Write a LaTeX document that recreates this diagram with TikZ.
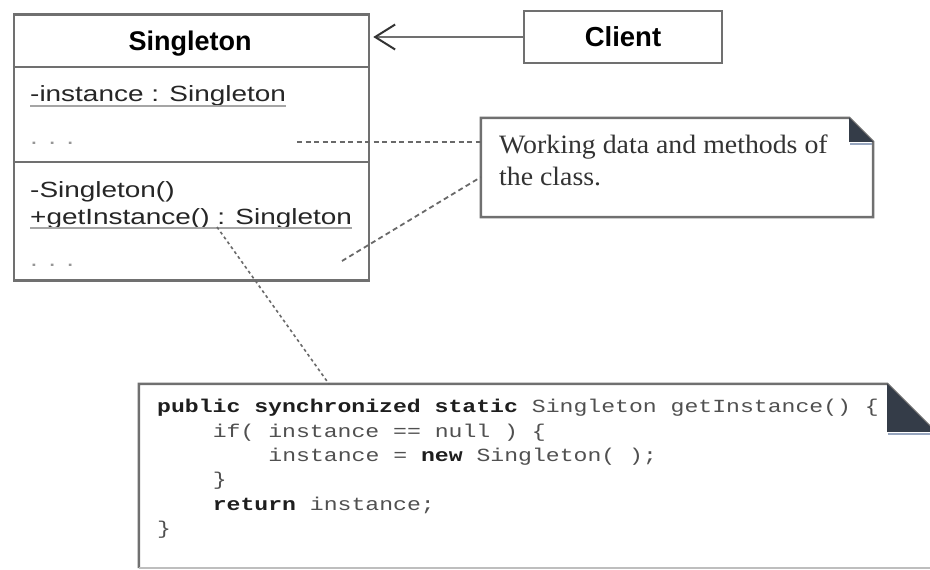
\documentclass[tikz,border=0pt]{standalone}
\usepackage{fontspec}
\setmainfont{Liberation Sans}
\newfontfamily\hdfont{Liberation Sans}
\newfontfamily\memfont[FakeStretch=1.27]{Liberation Sans}
\newfontfamily\notefont[FakeStretch=1.05]{Liberation Serif}
\newfontfamily\codefont[FakeStretch=1.25]{Liberation Mono}
\usetikzlibrary{arrows.meta}
\definecolor{linec}{RGB}{112,112,112}
\definecolor{foldc}{RGB}{52,60,72}
\definecolor{foldsh}{RGB}{150,165,190}
\definecolor{codec}{RGB}{80,80,80}
\definecolor{codeb}{RGB}{30,30,30}
\definecolor{dashc}{RGB}{105,105,105}
\definecolor{ulc}{RGB}{165,165,165}
\definecolor{dotc}{RGB}{150,150,150}
\definecolor{lightline}{RGB}{190,190,190}
\begin{document}
\begin{tikzpicture}[x=1pt,y=-1pt,
  box/.style={draw=linec,line width=2.5pt,fill=white,inner sep=0pt},
  hdtext/.style={font=\hdfont\bfseries\fontsize{27}{32}\selectfont,inner sep=0pt,anchor=base,text=black},
  memtext/.style={font=\memfont\fontsize{22}{26}\selectfont,inner sep=0pt,anchor=base west,text=black!85},
  dotstext/.style={font=\memfont\fontsize{22}{26}\selectfont,inner sep=0pt,anchor=base west,text=dotc},
  notetext/.style={font=\notefont\fontsize{26.5}{33}\selectfont,inner sep=0pt,anchor=base west,text=black!80},
  codetext/.style={font=\codefont\fontsize{18.5}{24}\selectfont,inner sep=0pt,anchor=base west,text=codec},
  ulline/.style={draw=ulc,line width=1.5pt},
  outline/.style={draw=linec,line width=2.5pt},
  conn/.style={draw=dashc,line width=1.8pt,dash pattern=on 5pt off 3.5pt},
  connfine/.style={draw=dashc,line width=1.6pt,dash pattern=on 3pt off 3pt},
  assoc/.style={draw=linec,line width=2pt,-{Straight Barb[length=20pt,width=25pt,line width=2pt,color=black!80]}},
  fold/.style={fill=foldc},
  foldshadow/.style={draw=foldsh,line width=2pt}
]
\useasboundingbox (0,0) rectangle (930,570);
\fill[white] (0,0) rectangle (930,570);
\clip (0,0) rectangle (930,570);

% Singleton class
\node[box,minimum width=355pt,minimum height=266pt] (sing) at (191.5,147.5) {};
\draw[outline] (sing.west |- 0,67) -- (sing.east |- 0,67);
\draw[outline] (sing.west |- 0,162) -- (sing.east |- 0,162);
\node[hdtext] (sname) at (190,50) {Singleton};
\node[memtext] (attr) at (30,101) {-instance : Singleton};
\draw[ulline] ([yshift=-5pt]attr.base west) -- ([yshift=-5pt]attr.base east);
\node[dotstext] (dotsa) at (30,144) {. . .};
\node[memtext] (ctor) at (30,197) {-Singleton()};
\node[memtext] (getinst) at (30,224) {+getInstance() : Singleton};
\draw[ulline] ([yshift=-4pt]getinst.base west) -- ([yshift=-4pt]getinst.base east);
\node[dotstext] (dotsb) at (30,266) {. . .};

% Client
\node[box,minimum width=198pt,minimum height=52pt,font=\hdfont\bfseries\fontsize{27.5}{32}\selectfont] (client) at (623,37) {Client};
\draw[assoc,shorten >=3pt] (client.west) -- (client.west -| sing.east);

% Note
\node[inner sep=0pt,minimum width=392pt,minimum height=99pt] (note) at (677,167.5) {};
\draw[outline,fill=white] (note.south west) -- (note.north west) -- ([xshift=-24pt]note.north east) -- ([yshift=-24pt]note.north east) -- (note.south east) -- cycle;
\fill[fold] ([xshift=-24pt]note.north east) -- ([xshift=-24pt,yshift=-24pt]note.north east) -- ([yshift=-24pt]note.north east) -- cycle;
\draw[foldshadow] ([xshift=-23pt,yshift=-26pt]note.north east) -- ([xshift=-1pt,yshift=-26pt]note.north east);
\node[notetext] (nta) at (499,153) {Working data and methods of};
\node[notetext] (ntb) at (499,185) {the class.};

% Code note
\node[inner sep=0pt,minimum width=796pt,minimum height=184pt] (code) at (537,476) {};
\fill[white] (code.south west) rectangle (code.north east);
\draw[outline] (code.south west) -- (code.north west) -- ([xshift=-48pt]code.north east) -- ([yshift=-48pt]code.north east) -- (code.south east);
\draw[draw=lightline,line width=2pt] (code.south west) -- (code.south east);
\fill[fold] ([xshift=-48pt]code.north east) -- ([xshift=-48pt,yshift=-48pt]code.north east) -- ([yshift=-48pt]code.north east) -- cycle;
\draw[foldshadow] ([xshift=-47pt,yshift=-50pt]code.north east) -- ([xshift=-1pt,yshift=-50pt]code.north east);
\node[codetext] (cla) at (157,412.5) {\textcolor{codeb}{\bfseries public synchronized static} Singleton getInstance() \{};
\node[codetext] (clb) at (212.6,437) {if( instance == null ) \{};
\node[codetext] (clc) at (268.2,461) {instance = \textcolor{codeb}{\bfseries new} Singleton( );};
\node[codetext] (cld) at (212.6,485.5) {\}};
\node[codetext] (cle) at (212.6,510) {\textcolor{codeb}{\bfseries return} instance;};
\node[codetext] (clf) at (157,534) {\}};

% Note connectors
\coordinate (da) at (297,142);
\draw[conn] (da) -- (da -| note.west);
\coordinate (db) at (342,261);
\coordinate (dbe) at (481,177);
\draw[conn] (db) -- (dbe);
\coordinate (gi) at (217,227);
\coordinate (ct) at (329,384);
\draw[connfine] (gi) -- (ct);
\end{tikzpicture}
\end{document}
